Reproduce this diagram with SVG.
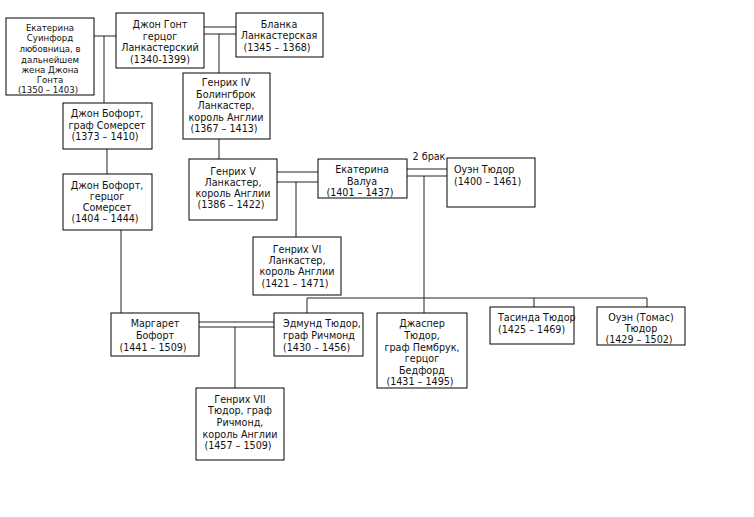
<svg xmlns="http://www.w3.org/2000/svg" width="754" height="517" viewBox="0 0 754 517">
<style>
.b{fill:#fff;stroke:#000;stroke-width:1}
.t{font-family:"DejaVu Sans",Verdana,sans-serif;font-size:9.6px;fill:#111;text-anchor:middle}
.s{font-size:8.6px}
.l{text-anchor:start}
.c line{stroke:#222;stroke-width:1}
</style>
<rect width="754" height="517" fill="#fff"/>
<g class="c" id="connectors">
<line x1="94" y1="36" x2="116" y2="36"/>
<line x1="104" y1="36" x2="104" y2="103"/>
<line x1="204" y1="27" x2="236" y2="27"/>
<line x1="204" y1="34" x2="236" y2="34"/>
<line x1="219" y1="34" x2="219" y2="73"/>
<line x1="219" y1="139" x2="219" y2="159"/>
<line x1="107" y1="149" x2="107" y2="174"/>
<line x1="121" y1="230" x2="121" y2="313"/>
<line x1="277" y1="172" x2="318" y2="172"/>
<line x1="277" y1="182" x2="318" y2="182"/>
<line x1="296" y1="182" x2="296" y2="237"/>
<line x1="407" y1="169" x2="447" y2="169"/>
<line x1="407" y1="176" x2="447" y2="176"/>
<line x1="424" y1="176" x2="424" y2="313"/>
<line x1="307" y1="298" x2="647" y2="298"/>
<line x1="307" y1="298" x2="307" y2="313"/>
<line x1="534" y1="298" x2="534" y2="307"/>
<line x1="647" y1="298" x2="647" y2="307"/>
<line x1="199" y1="322" x2="274" y2="322"/>
<line x1="199" y1="327" x2="274" y2="327"/>
<line x1="235" y1="327" x2="235" y2="388"/>
</g>
<text class="t" x="429" y="160">2 брак</text>
<g id="swynford">
<rect class="b" x="6" y="18" width="88" height="77"/>
<text class="t s" x="50" y="30.5">Екатерина</text>
<text class="t s" x="50" y="41">Суинфорд</text>
<text class="t s" x="50" y="52">любовница, в</text>
<text class="t s" x="50" y="62.5">дальнейшем</text>
<text class="t s" x="50" y="73">жена Джона</text>
<text class="t s" x="50" y="83">Гонта</text>
<text class="t s" x="48" y="93">(1350 – 1403)</text>
</g>
<g id="gaunt">
<rect class="b" x="116" y="13" width="88" height="55"/>
<text class="t" x="160" y="28">Джон Гонт</text>
<text class="t" x="160" y="39.5">герцог</text>
<text class="t" x="160" y="51">Ланкастерский</text>
<text class="t" x="160" y="62.5">(1340-1399)</text>
</g>
<g id="blanche">
<rect class="b" x="236" y="13" width="87" height="44"/>
<text class="t" x="279" y="27.5">Бланка</text>
<text class="t" x="279" y="39">Ланкастерская</text>
<text class="t" x="277" y="50.5">(1345 – 1368)</text>
</g>
<g id="henry4">
<rect class="b" x="183" y="73" width="87" height="66"/>
<text class="t" x="226" y="86">Генрих IV</text>
<text class="t" x="226" y="97.5">Болингброк</text>
<text class="t" x="226" y="109">Ланкастер,</text>
<text class="t" x="226" y="120.5">король Англии</text>
<text class="t" x="224" y="132">(1367 – 1413)</text>
</g>
<g id="beaufort1">
<rect class="b" x="63" y="103" width="89" height="46"/>
<text class="t" x="107" y="117">Джон Бофорт,</text>
<text class="t" x="107" y="128.5">граф Сомерсет</text>
<text class="t" x="105" y="140">(1373 – 1410)</text>
</g>
<g id="beaufort2">
<rect class="b" x="63" y="174" width="89" height="56"/>
<text class="t" x="107" y="188.5">Джон Бофорт,</text>
<text class="t" x="107" y="200">герцог</text>
<text class="t" x="107" y="211">Сомерсет</text>
<text class="t" x="105" y="222">(1404 – 1444)</text>
</g>
<g id="henry5">
<rect class="b" x="189" y="159" width="88" height="61"/>
<text class="t" x="233" y="174.5">Генрих V</text>
<text class="t" x="233" y="186">Ланкастер,</text>
<text class="t" x="233" y="197">король Англии</text>
<text class="t" x="231" y="208">(1386 – 1422)</text>
</g>
<g id="valois">
<rect class="b" x="318" y="159" width="89" height="39"/>
<text class="t" x="362" y="173">Екатерина</text>
<text class="t" x="362" y="184.5">Валуа</text>
<text class="t" x="360" y="195.5">(1401 – 1437)</text>
</g>
<g id="owen">
<rect class="b" x="447" y="158" width="88" height="49"/>
<text class="t l" x="454" y="173">Оуэн Тюдор</text>
<text class="t l" x="454" y="185">(1400 – 1461)</text>
</g>
<g id="henry6">
<rect class="b" x="253" y="237" width="88" height="58"/>
<text class="t" x="297" y="252.5">Генрих VI</text>
<text class="t" x="297" y="264">Ланкастер,</text>
<text class="t" x="297" y="275">король Англии</text>
<text class="t" x="295" y="286.5">(1421 – 1471)</text>
</g>
<g id="margaret">
<rect class="b" x="111" y="313" width="88" height="43"/>
<text class="t" x="155" y="327">Маргарет</text>
<text class="t" x="155" y="338.5">Бофорт</text>
<text class="t" x="153" y="350.5">(1441 – 1509)</text>
</g>
<g id="edmund">
<rect class="b" x="274" y="313" width="89" height="43"/>
<text class="t l" x="283" y="327">Эдмунд Тюдор,</text>
<text class="t l" x="283" y="338.5">граф Ричмонд</text>
<text class="t l" x="283" y="350.5">(1430 – 1456)</text>
</g>
<g id="jasper">
<rect class="b" x="377" y="313" width="90" height="75"/>
<text class="t" x="422" y="327">Джаспер</text>
<text class="t" x="422" y="338.5">Тюдор,</text>
<text class="t" x="422" y="350.5">граф Пембрук,</text>
<text class="t" x="422" y="362">герцог</text>
<text class="t" x="422" y="373.5">Бедфорд</text>
<text class="t" x="420" y="385">(1431 – 1495)</text>
</g>
<g id="tacinda">
<rect class="b" x="490" y="307" width="84" height="37"/>
<text class="t l" x="498" y="320.5">Тасинда Тюдор</text>
<text class="t l" x="498" y="332.5">(1425 – 1469)</text>
</g>
<g id="owen2">
<rect class="b" x="597" y="307" width="88" height="38"/>
<text class="t" x="641" y="320.5">Оуэн (Томас)</text>
<text class="t" x="641" y="332">Тюдор</text>
<text class="t" x="639" y="343">(1429 – 1502)</text>
</g>
<g id="henry7">
<rect class="b" x="196" y="388" width="88" height="72"/>
<text class="t" x="240" y="402.5">Генрих VII</text>
<text class="t" x="240" y="414">Тюдор, граф</text>
<text class="t" x="240" y="426">Ричмонд,</text>
<text class="t" x="240" y="437.5">король Англии</text>
<text class="t" x="238" y="449">(1457 – 1509)</text>
</g>
</svg>
